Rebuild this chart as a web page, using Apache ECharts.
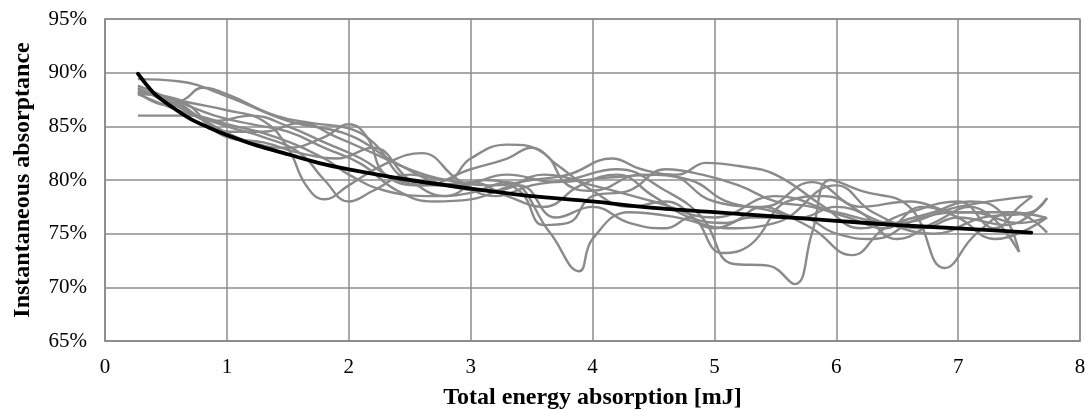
<!DOCTYPE html>
<html>
<head>
<meta charset="utf-8">
<script src="https://cdn.jsdelivr.net/npm/echarts@6/dist/echarts.min.js"></script>
<style>
  html, body { margin: 0; padding: 0; background: #fff; }
  #chart { width: 1085px; height: 411px; }
</style>
</head>
<body>
<div id="chart"></div>
<script>
// Axis ticks
const xTicks = [0, 1, 2, 3, 4, 5, 6, 7, 8];
const yTicks = [65, 70, 75, 80, 85, 90, 95];

// Individual measurement runs: [total energy absorbed (mJ), instantaneous absorptance (%)]
const run1 = [[0.27,89.4],[0.6,89.2],[1.0,87.8],[1.5,85.5],[2.0,84.2],[2.4,81.5],[2.8,79.5],[3.2,79.0],[3.6,80.5],[4.0,79.5],[4.5,78.0],[5.0,76.5],[5.5,78.5],[6.0,77.0],[6.5,76.0],[7.0,77.5],[7.6,78.5]];
const run2 = [[0.27,86.0],[0.7,86.0],[1.0,85.2],[1.4,84.0],[1.8,82.0],[2.0,80.5],[2.3,79.0],[2.7,78.5],[3.0,78.8],[3.3,79.8],[3.65,75.1],[3.89,71.5],[4.0,74.5],[4.3,77.0],[4.7,76.5],[5.1,75.5],[5.5,76.0],[6.0,79.5],[6.3,77.0],[6.7,75.5],[7.0,76.5],[7.4,75.8],[7.73,78.3]];
const run3 = [[0.27,88.2],[0.5,87.0],[0.65,87.5],[0.8,88.6],[1.0,88.0],[1.4,86.0],[1.7,85.3],[2.0,84.8],[2.2,83.5],[2.5,80.0],[2.9,79.5],[3.3,80.5],[3.7,79.8],[4.1,80.2],[4.6,80.5],[5.0,78.0],[5.4,77.5],[5.8,79.8],[6.2,77.5],[6.6,78.0],[7.0,77.0],[7.4,77.0],[7.72,76.5]];
const run4 = [[0.27,88.5],[0.6,87.0],[0.9,85.0],[1.2,83.5],[1.5,83.0],[1.8,84.0],[2.0,85.2],[2.15,84.0],[2.3,80.5],[2.6,79.5],[3.0,81.0],[3.3,82.0],[3.5,83.0],[3.7,81.5],[4.0,79.0],[4.3,77.5],[4.6,78.0],[5.0,75.5],[5.3,76.5],[5.7,76.5],[6.0,75.0],[6.3,74.5],[6.7,76.5],[7.1,77.0],[7.5,76.0],[7.72,76.5]];
const run5 = [[0.27,88.0],[0.6,86.5],[1.0,85.0],[1.3,84.0],[1.6,82.5],[1.8,80.0],[2.0,78.0],[2.2,79.0],[2.5,80.5],[2.8,80.0],[3.0,82.0],[3.3,83.3],[3.6,82.5],[3.8,79.5],[4.0,79.0],[4.4,80.5],[4.8,80.0],[5.1,78.0],[5.5,77.0],[5.8,75.5],[6.13,73.0],[6.4,75.5],[6.8,77.0],[7.1,78.0],[7.35,77.0],[7.5,73.3]];
const run6 = [[0.27,88.3],[0.7,87.2],[1.0,86.5],[1.3,85.5],[1.5,83.0],[1.65,79.5],[1.8,78.2],[2.0,79.5],[2.3,81.5],[2.6,82.5],[2.9,80.0],[3.2,78.5],[3.5,79.5],[3.8,80.0],[4.2,81.0],[4.6,79.0],[4.9,76.5],[5.15,72.2],[5.45,72.0],[5.66,70.3],[5.8,75.0],[5.95,80.0],[6.2,79.0],[6.6,77.5],[6.89,71.8],[7.15,75.0],[7.45,77.0],[7.73,75.1]];
const run7 = [[0.27,88.0],[0.6,87.5],[1.0,84.5],[1.3,84.5],[1.6,85.3],[1.9,84.0],[2.2,82.5],[2.5,81.0],[2.8,80.0],[3.2,79.5],[3.5,80.0],[3.8,80.5],[4.16,82.0],[4.4,81.0],[4.7,80.5],[4.93,81.6],[5.2,81.3],[5.5,80.5],[5.9,77.5],[6.2,75.5],[6.6,77.0],[7.0,78.0],[7.3,75.5],[7.5,77.5],[7.61,78.5]];
const run8 = [[0.27,88.8],[0.6,87.3],[0.9,86.0],[1.2,85.2],[1.5,84.5],[1.8,83.0],[2.1,81.5],[2.4,79.0],[2.7,78.0],[3.0,78.2],[3.4,79.5],[3.7,76.5],[4.0,77.5],[4.3,76.0],[4.6,75.5],[4.8,76.5],[5.06,73.2],[5.3,74.0],[5.6,78.0],[5.9,78.5],[6.2,77.0],[6.5,74.5],[6.8,76.0],[7.1,77.5],[7.5,73.3]];
const run9 = [[0.27,88.1],[0.55,87.5],[0.75,86.0],[1.0,84.0],[1.3,83.5],[1.6,82.5],[1.9,82.0],[2.2,83.0],[2.5,80.0],[2.8,78.5],[3.1,80.0],[3.4,79.0],[3.6,75.8],[3.8,76.0],[4.0,78.5],[4.3,79.0],[4.6,81.0],[4.9,80.5],[5.2,79.5],[5.5,78.0],[5.8,77.5],[6.1,76.5],[6.4,75.5],[6.7,77.5],[7.0,76.5],[7.3,74.5],[7.73,76.5]];
const run10 = [[0.27,88.6],[0.6,86.8],[0.9,85.5],[1.2,86.0],[1.5,85.0],[1.8,83.5],[2.1,82.0],[2.4,80.0],[2.7,79.5],[3.0,79.8],[3.3,78.5],[3.6,77.5],[3.9,79.5],[4.2,80.5],[4.5,78.5],[4.8,76.5],[5.1,76.0],[5.4,77.5],[5.7,76.5],[6.0,77.5],[6.4,76.0],[6.8,75.0],[7.2,76.5],[7.6,77.0],[7.73,78.3]];
const runs = [run1, run2, run3, run4, run5, run6, run7, run8, run9, run10];

// Fitted trend curve through all runs
const fitX = [0.27, 0.4, 0.55, 0.7, 0.85, 1.0, 1.25, 1.5, 1.75, 2.0, 2.5, 3.0, 3.5, 4.0, 4.5, 5.0, 5.5, 6.0, 6.5, 7.0, 7.6];
const fitY = [89.9, 88.1, 86.8, 85.7, 84.9, 84.2, 83.2, 82.4, 81.6, 81.0, 80.0, 79.2, 78.5, 78.0, 77.4, 77.0, 76.6, 76.2, 75.8, 75.5, 75.1];

const fontFamily = '"Liberation Serif", "Times New Roman", serif';
const gridColor = '#8c8c8c';

const series = runs.map(r => ({
  type: 'line',
  data: r,
  smooth: 0.45,
  showSymbol: false,
  lineStyle: { color: '#8a8a8a', width: 2.4 },
  silent: true,
  z: 2
}));
series.push({
  type: 'line',
  data: fitX.map((x, i) => [x, fitY[i]]),
  smooth: 0.3,
  showSymbol: false,
  lineStyle: { color: '#000', width: 3.8, cap: 'round', join: 'round' },
  silent: true,
  z: 5
});

const chart = echarts.init(document.getElementById('chart'), null, { renderer: 'canvas' });
chart.setOption({
  animation: false,
  backgroundColor: '#fff',
  grid: {
    left: 105, right: 5, top: 19, bottom: 70,
    outerBoundsMode: 'none', containLabel: false,
    show: true, borderColor: gridColor, borderWidth: 1.5
  },
  xAxis: {
    type: 'value',
    min: xTicks[0], max: xTicks[xTicks.length - 1], interval: 1,
    name: 'Total energy absorption [mJ]',
    nameLocation: 'middle', nameGap: 45,
    nameTextStyle: { fontFamily, fontSize: 24, fontWeight: 'bold', color: '#000' },
    axisLine: { show: true, lineStyle: { color: gridColor, width: 1.5 } },
    axisTick: { show: false },
    axisLabel: { fontFamily, fontSize: 21, color: '#000', margin: 16 },
    splitLine: { show: true, lineStyle: { color: gridColor, width: 1.5 } }
  },
  yAxis: {
    type: 'value',
    min: yTicks[0], max: yTicks[yTicks.length - 1], interval: 5,
    name: 'Instantaneous absorptance',
    nameLocation: 'middle', nameGap: 70,
    nameTextStyle: { fontFamily, fontSize: 24, fontWeight: 'bold', color: '#000' },
    axisLine: { show: true, lineStyle: { color: gridColor, width: 1.5 } },
    axisTick: { show: false },
    axisLabel: { fontFamily, fontSize: 21, color: '#000', margin: 18, formatter: '{value}%' },
    splitLine: { show: true, lineStyle: { color: gridColor, width: 1.5 } }
  },
  series
});
</script>
</body>
</html>
